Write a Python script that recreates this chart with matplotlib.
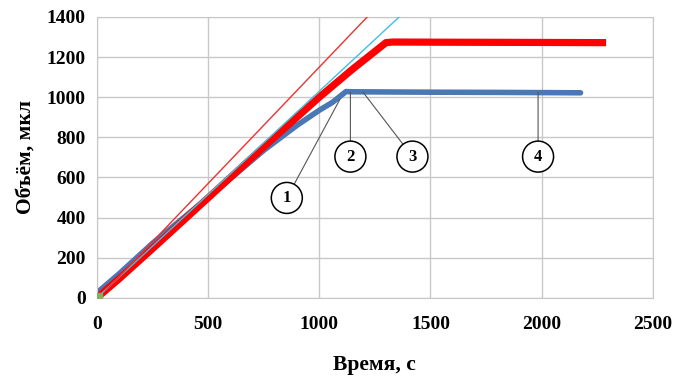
import matplotlib.pyplot as plt

# time, s / volume, ul
red_t = [0, 100, 250, 500, 750, 1000, 1150, 1300, 1330, 1600, 2000, 2290]
red_v = [0, 95, 245, 498, 752, 1000, 1140, 1272, 1275, 1274, 1273, 1272]

blue_t = [0, 100, 250, 500, 750, 900, 1000, 1060, 1120, 1150, 1500, 1800, 2175]
blue_v = [25, 120, 272, 500, 735, 860, 935, 975, 1028, 1027, 1025, 1024, 1022]

red_fit_t = [40, 1250]
red_fit_v = [36, 1440]

cyan_fit_t = [0, 1400]
cyan_fit_v = [0, 1442]

# labels: number, circle position (t, v), pointed position (t, v)
notes = [
    ("1", (854, 498), (1093, 990)),
    ("2", (1140, 704), (1140, 1025)),
    ("3", (1419, 704), (1197, 1025)),
    ("4", (1984, 704), (1984, 1023)),
]

font = "Liberation Serif"

fig = plt.figure(figsize=(6.73, 3.77), dpi=100)
ax = fig.add_axes([0.144, 0.210, 0.826, 0.745])

ax.plot(cyan_fit_t, cyan_fit_v, color="#40c0e0", lw=1.0, zorder=3)
ax.plot(red_fit_t, red_fit_v, color="#f03030", lw=1.0, zorder=3)
ax.plot(blue_t, blue_v, color="#4a78b4", lw=4.0, solid_capstyle="round", zorder=2)
ax.plot(red_t, red_v, color="#ff0000", lw=5.2, solid_capstyle="butt", zorder=2.5)
ax.plot([8], [8], marker="s", ms=5, color="#80b060", zorder=4)

for num, (ct, cv), (pt, pv) in notes:
    ax.annotate(num, xy=(pt, pv), xytext=(ct, cv),
                ha="center", va="center", fontsize=12, fontweight="bold",
                family=font,
                bbox=dict(boxstyle="circle,pad=0.45", fc="white", ec="black", lw=1.1),
                arrowprops=dict(arrowstyle="-", color="#555555", lw=0.8,
                                shrinkA=0, shrinkB=0),
                zorder=5)

ax.set_xlim(0, 2500)
ax.set_ylim(0, 1400)
ax.set_xticks([0, 500, 1000, 1500, 2000, 2500])
ax.set_yticks(range(0, 1401, 200))
ax.grid(True, color="#c8c8c8", lw=1.0)
ax.set_axisbelow(True)
for s in ax.spines.values():
    s.set_color("#c8c8c8")
ax.tick_params(length=0, pad=8)
ax.tick_params(axis="x", pad=13)
for lab in ax.get_xticklabels() + ax.get_yticklabels():
    lab.set_family(font)
    lab.set_fontweight("bold")
    lab.set_fontsize(14)

ax.set_xlabel("Время, с", family=font, fontweight="bold", fontsize=15.5, labelpad=16)
ax.set_ylabel("Объём, мкл", family=font, fontweight="bold", fontsize=15.5, labelpad=8)

fig.savefig("out.png", dpi=100)
